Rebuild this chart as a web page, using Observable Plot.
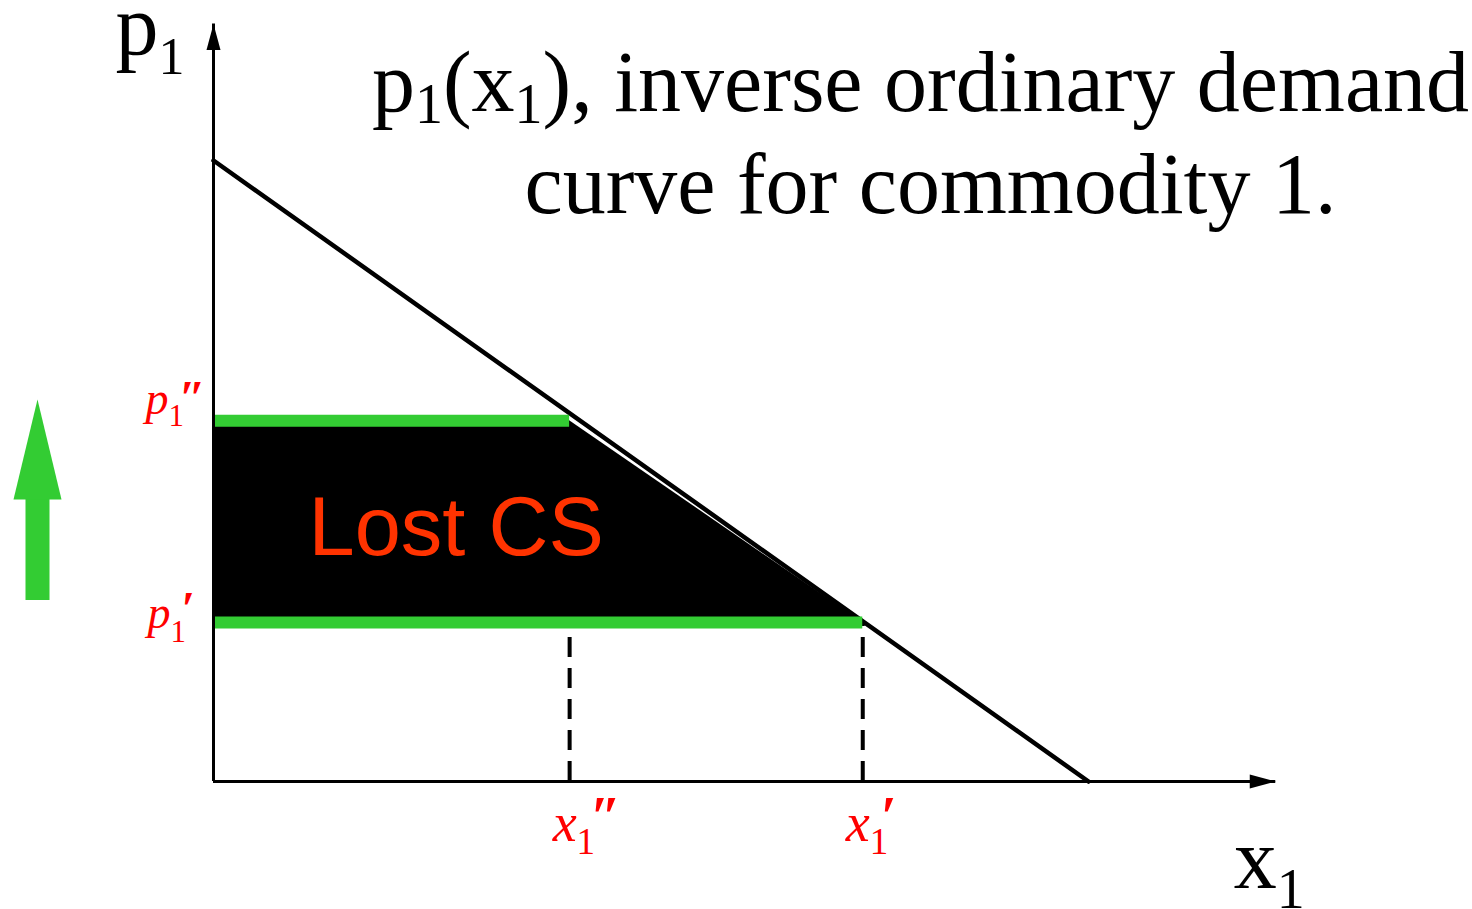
<!DOCTYPE html>
<html>
<head>
<meta charset="utf-8">
<script src="https://cdn.jsdelivr.net/npm/d3@7"></script>
<script src="https://cdn.jsdelivr.net/npm/@observablehq/plot@0.6"></script>
<style>
  html, body { margin: 0; padding: 0; background: #ffffff; }
  #chart svg { display: block; }
</style>
</head>
<body>
<div id="chart"></div>
<script>
// ---------------- data ----------------
const demandQuantity = [0, 10];          // x1 along the demand line
const demandPrice = [10, 0];             // p1 along the demand line
const priceLevels = [2.56, 5.81];        // p1' , p1''
const quantityLevels = [7.42, 4.07];     // x1' , x1''
const priceLabels = ["p_{1}^{′}", "p_{1}^{″}"];
const quantityLabels = ["x_{1}^{′}", "x_{1}^{″}"];
const axisExtent = [12.14, 12.2];        // end of x1 axis, end of p1 axis
const axisNames = ["x_{1}", "p_{1}"];
const titleLines = ["p_{1}(x_{1}), inverse ordinary demand", "curve for commodity 1."];
const regionLabel = ["Lost CS"];

// ---------------- derived tables ----------------
const demand = demandQuantity.map((q, i) => ({x: q, p: demandPrice[i]}));
const [pLow, pHigh] = priceLevels;
const [xHigh, xLow] = quantityLevels;
const lostRegion = [
  {x: 0, top: pHigh},
  {x: xLow, top: pHigh},
  {x: xHigh, top: pLow}
];
const priceRules = priceLevels.map((p, i) => ({p, x2: quantityLevels[i]}));

const GREEN = "#33cc33";
const RED = "#ff0000";
const SERIF = "'Liberation Serif', 'Times New Roman', serif";

const plot = Plot.plot({
  width: 1472,
  height: 909,
  marginLeft: 213,
  marginRight: 384,
  marginTop: 160,
  marginBottom: 128,
  x: {domain: [0, 10], axis: null},
  y: {domain: [0, 10], axis: null},
  style: {background: "#ffffff", overflow: "visible"},
  marks: [
    Plot.areaY(lostRegion, {x: "x", y1: pLow, y2: "top", fill: "black", curve: "linear"}),
    Plot.line(demand, {x: "x", y: "p", stroke: "black", strokeWidth: 4.5}),
    Plot.ruleX(quantityLevels, {x: d => d, y1: 0, y2: pLow, stroke: "black", strokeWidth: 4, strokeDasharray: "20,11"}),
    Plot.ruleY(priceRules, {y: "p", x1: 0, x2: "x2", stroke: GREEN, strokeWidth: 12}),
    Plot.ruleX([0], {x: 0, y1: 0, y2: axisExtent[1], stroke: "black", strokeWidth: 3}),
    Plot.ruleY([0], {y: 0, x1: 0, x2: axisExtent[0], stroke: "black", strokeWidth: 3}),
    Plot.vector([0], {x: 0, y: axisExtent[1], rotate: 0, length: 26, r: 7, anchor: "end", shape: "spike", fill: "black", stroke: "none"}),
    Plot.vector([0], {x: axisExtent[0], y: 0, rotate: 90, length: 26, r: 7, anchor: "end", shape: "spike", fill: "black", stroke: "none"}),
    Plot.ruleX([0], {x: 0, y1: pLow, y2: (pLow + pHigh) / 2, dx: -176, dy: -22, stroke: GREEN, strokeWidth: 24}),
    Plot.vector([0], {x: 0, y: (pLow + pHigh) / 2, dx: -176, dy: -22, rotate: 0, length: 100, r: 24, anchor: "start", shape: "spike", fill: GREEN, stroke: "none"}),
    Plot.text(regionLabel, {x: 0, y: pLow, text: d => d, dx: 95, dy: -68, textAnchor: "start", lineAnchor: "bottom",
      fill: "#ff3300", fontSize: 83, fontFamily: "'Liberation Sans', Arial, sans-serif"}),
    Plot.text([priceLabels[1]], {x: 0, y: pHigh, text: d => d, dx: -68, dy: -7, textAnchor: "start", lineAnchor: "bottom",
      fill: RED, fontSize: 46, fontStyle: "italic", fontFamily: SERIF}),
    Plot.text([priceLabels[0]], {x: 0, y: pLow, text: d => d, dx: -66, dy: 5, textAnchor: "start", lineAnchor: "bottom",
      fill: RED, fontSize: 46, fontStyle: "italic", fontFamily: SERIF}),
    Plot.text([quantityLabels[1]], {x: xLow, y: 0, text: d => d, dx: -17, dy: 59, textAnchor: "start", lineAnchor: "bottom",
      fill: RED, fontSize: 54, fontStyle: "italic", fontFamily: SERIF}),
    Plot.text([quantityLabels[0]], {x: xHigh, y: 0, text: d => d, dx: -17, dy: 59, textAnchor: "start", lineAnchor: "bottom",
      fill: RED, fontSize: 54, fontStyle: "italic", fontFamily: SERIF}),
    Plot.text([axisNames[1]], {x: 0, y: axisExtent[1], text: d => d, dx: -98, dy: 30, textAnchor: "start", lineAnchor: "bottom",
      fill: "black", fontSize: 86, fontFamily: SERIF}),
    Plot.text([axisNames[0]], {x: axisExtent[0], y: 0, text: d => d, dx: -42, dy: 106, textAnchor: "start", lineAnchor: "bottom",
      fill: "black", fontSize: 86, fontFamily: SERIF}),
    Plot.text([titleLines[0]], {frameAnchor: "top-left", text: d => d, dx: 707, dy: -50, textAnchor: "middle", lineAnchor: "bottom",
      fill: "black", fontSize: 86, fontFamily: SERIF}),
    Plot.text([titleLines[1]], {frameAnchor: "top-left", text: d => d, dx: 717, dy: 52, textAnchor: "middle", lineAnchor: "bottom",
      fill: "black", fontSize: 86, fontFamily: SERIF})
  ]
});

document.getElementById("chart").appendChild(plot);

// ---------------- sub/superscript markup ----------------
const markupStyle = new Map([
  [titleLines[0], {subSize: 56, subShift: 12}],
  [axisNames[1], {subSize: 52, subShift: 20}],
  [axisNames[0], {subSize: 56, subShift: 20}],
  [priceLabels[1], {subSize: 31, subShift: 12, supSize: 48, supDx: -5, supShift: 0}],
  [priceLabels[0], {subSize: 31, subShift: 14, supSize: 48, supDx: -5, supShift: -3}],
  [quantityLabels[1], {subSize: 37, subShift: 13, supSize: 56, supDx: -5, supShift: -5}],
  [quantityLabels[0], {subSize: 37, subShift: 13, supSize: 56, supDx: -8, supShift: -5}]
]);

d3.select(plot).selectAll("text").each(function () {
  const src = this.textContent;
  const o = markupStyle.get(src);
  if (!o) return;
  const el = d3.select(this);
  el.text(null);
  let cur = 0;
  const re = /_\{([^}]*)\}|\^\{([^}]*)\}|([^_^]+)/g;
  let m;
  while ((m = re.exec(src))) {
    const t = el.append("tspan");
    if (m[1] !== undefined) {
      t.text(m[1]).attr("font-size", o.subSize).attr("font-style", "normal").attr("dy", o.subShift - cur);
      cur = o.subShift;
    } else if (m[2] !== undefined) {
      t.text(m[2]).attr("font-size", o.supSize).attr("font-weight", "bold").attr("dx", o.supDx).attr("dy", o.supShift - cur);
      cur = o.supShift;
    } else {
      t.text(m[3]).attr("dy", -cur);
      cur = 0;
    }
  }
});
</script>
</body>
</html>
